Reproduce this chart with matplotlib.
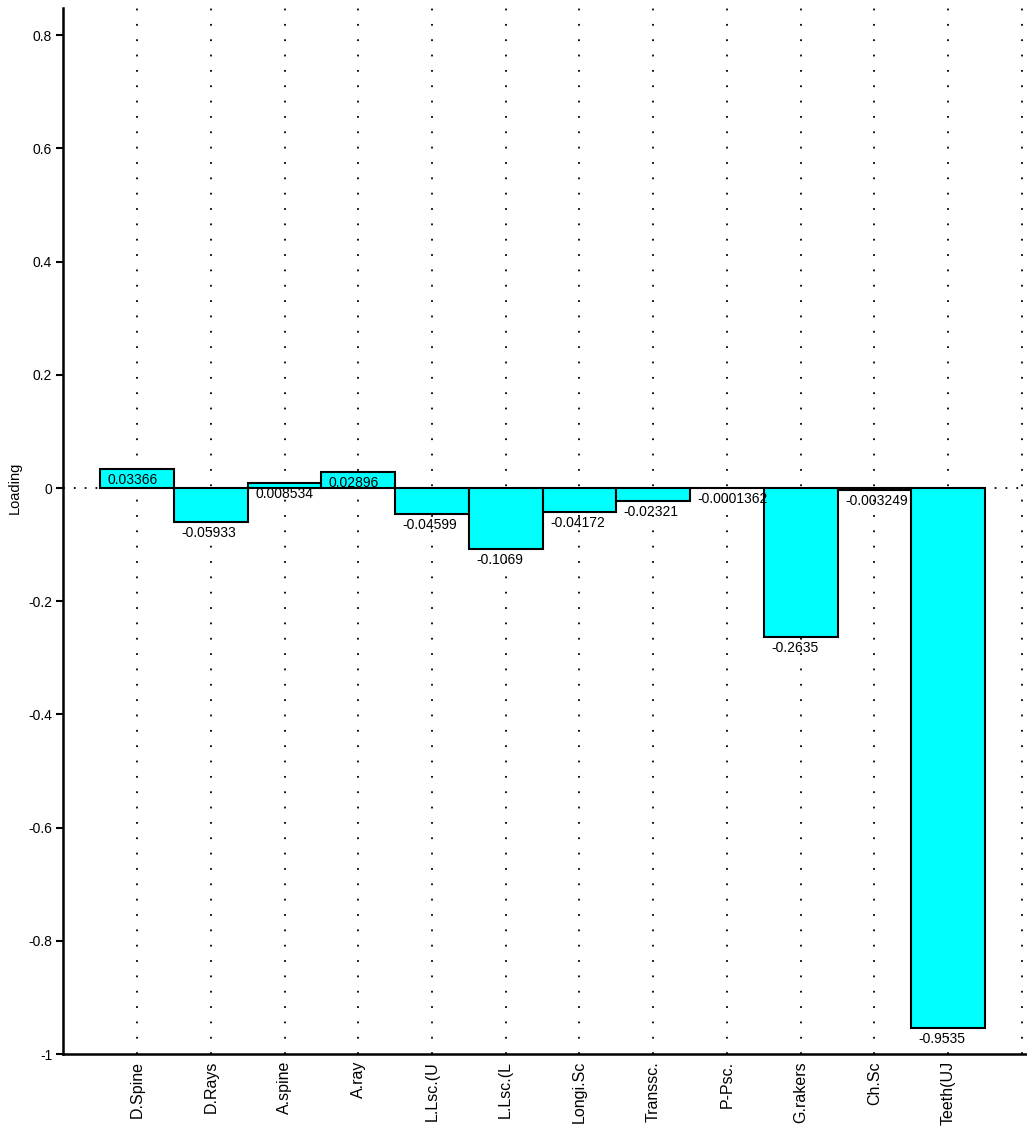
import matplotlib
matplotlib.use("Agg")
import matplotlib.pyplot as plt
import numpy as np
import warnings
warnings.filterwarnings("ignore")

categories = ["D.Spine", "D.Rays", "A.spine", "A.ray", "L.Lsc.(U", "L.Lsc.(L",
              "Longi.Sc", "Transsc.", "P-Psc.", "G.rakers", "Ch.Sc", "Teeth(UJ"]
values = [0.03366, -0.05933, 0.008534, 0.02896, -0.04599, -0.1069,
          -0.04172, -0.02321, -0.0001362, -0.2635, -0.003249, -0.9535]
value_labels = ["0.03366", "-0.05933", "0.008534", "0.02896", "-0.04599", "-0.1069",
                "-0.04172", "-0.02321", "-0.0001362", "-0.2635", "-0.003249", "-0.9535"]
yticks = [-1, -0.8, -0.6, -0.4, -0.2, 0, 0.2, 0.4, 0.6, 0.8]
ytick_labels = ["-1", "-0.8", "-0.6", "-0.4", "-0.2", "0", "0.2", "0.4", "0.6", "0.8"]

narrow = ["Liberation Sans Narrow", "Liberation Sans", "DejaVu Sans"]

fig = plt.figure(figsize=(10.27, 11.40), dpi=100)
ax = fig.add_axes([0.0616, 0.0754, 0.9371, 0.9175])

x = np.arange(1, len(categories) + 1)
n_grid = len(categories) + 1

# grid lines
for gx in range(1, n_grid + 1):
    ax.axvline(gx, color="black", lw=1.3, ls=(0, (1, 7.5)), zorder=0)
ax.axhline(0, color="black", lw=1.3, ls=(0, (1, 5)), zorder=0)

ax.bar(x, values, width=1.0, color="#00FFFF", edgecolor="black", linewidth=1.5, zorder=2)

for xi, v, lab in zip(x, values, value_labels):
    ax.annotate(lab, (xi - 0.4, v), xytext=(0, -3), textcoords="offset points",
                ha="left", va="top", fontsize=10, family=narrow, zorder=3)

ax.set_xlim(0, 13.05)
ax.set_ylim(-1, 0.848)
ax.set_yticks(yticks)
ax.set_yticklabels(ytick_labels, family=narrow, fontsize=10)
ax.set_xticks(x)
ax.set_xticklabels(categories, rotation=90, fontsize=11.5, family=["Liberation Sans", "DejaVu Sans"])
ax.tick_params(axis="x", length=0, pad=5)
ax.tick_params(axis="y", length=5, width=1.5, direction="out", pad=3)

for s in ["top", "right"]:
    ax.spines[s].set_visible(False)
for s in ["left", "bottom"]:
    ax.spines[s].set_linewidth(1.8)

ax.set_ylabel("Loading", fontsize=10.5, family=["Liberation Sans", "DejaVu Sans"])
ax.yaxis.set_label_coords(-0.043, (0 - (-1)) / (0.848 - (-1)))

fig.savefig("out.png", dpi=100)
